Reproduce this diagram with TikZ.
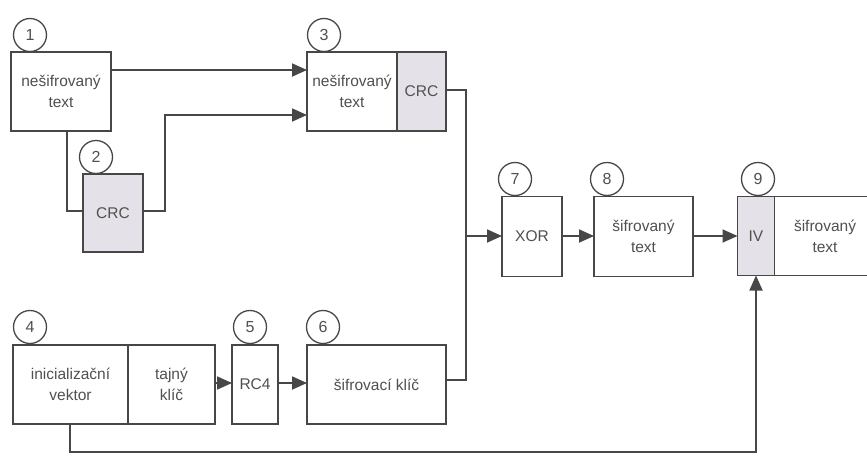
\documentclass[tikz,border=0pt]{standalone}
\usepackage{fontspec}
\setmainfont{Liberation Sans}
\usetikzlibrary{arrows.meta}
\definecolor{linec}{HTML}{474747}
\definecolor{txtc}{HTML}{505050}
\definecolor{grayfill}{HTML}{E4E2E8}
\begin{document}
\begin{tikzpicture}[x=1pt,y=-1pt,
  box/.style={draw=linec,line width=1.3pt,fill=white,text=txtc,inner sep=0pt,outer sep=0pt,
    align=center,font=\fontsize{15.5}{21}\selectfont},
  gbox/.style={box,fill=grayfill},
  num/.style={circle,draw=linec,line width=1.3pt,fill=white,minimum size=33pt,inner sep=0pt,
    text=txtc,font=\fontsize{16}{16}\selectfont},
  conn/.style={draw=linec,line width=1.8pt},
  arr/.style={conn,-{Triangle[length=15pt,width=13pt]}}]
\useasboundingbox (0,0) rectangle (867,455);
\clip (0,0) rectangle (867,455);
\fill[white] (0,0) rectangle (867,455);

% box 1
\node[box,minimum width=100pt,minimum height=79pt] (b1) at (61,91.5) {nešifrovaný\\text};
\node[num] (n1) at (30,35) {1};
% box 2
\node[gbox,minimum width=60pt,minimum height=78pt] (b2) at (113,213) {CRC};
\node[num] (n2) at (96,157) {2};
% box 3
\node[box,minimum width=90pt,minimum height=79pt] (b3) at (352,91.5) {nešifrovaný\\text};
\node[gbox,minimum width=49pt,minimum height=79pt,anchor=west] (b3c) at (b3.east) {CRC};
\node[num] (n3) at (324,35) {3};
% box 4
\node[box,minimum width=115pt,minimum height=79pt] (b4a) at (70.5,384.5) {inicializační\\vektor};
\node[box,minimum width=87pt,minimum height=79pt,anchor=west] (b4b) at (b4a.east) {tajný\\klíč};
\node[num] (n4) at (30,327) {4};
% box 5
\node[box,minimum width=46pt,minimum height=79pt] (b5) at (255,384.5) {RC4};
\node[num] (n5) at (250,327) {5};
% box 6
\node[box,minimum width=139pt,minimum height=79pt] (b6) at (376.5,384.5) {šifrovací klíč};
\node[num] (n6) at (323,327) {6};
% box 7
\node[box,minimum width=60pt,minimum height=80pt] (b7) at (532,236.5) {XOR};
\node[num] (n7) at (515,179) {7};
% box 8
\node[box,minimum width=99pt,minimum height=80pt] (b8) at (643.5,236.5) {šifrovaný\\text};
\node[num] (n8) at (607,179) {8};
% box 9
\node[gbox,minimum width=37pt,minimum height=79pt] (b9a) at (756,236) {IV};
\node[box,minimum width=100pt,minimum height=79pt,anchor=west] (b9b) at (b9a.east) {};
\node[text=txtc,align=center,font=\fontsize{15.5}{21}\selectfont] (t9) at (825,236) {šifrovaný\\text};
\node[num] (n9) at (758,179) {9};

% junction coordinates
\coordinate (j1) at (67,211);
\coordinate (j2a) at (165,211);
\coordinate (j2b) at (165,115);
\coordinate (j3) at (466,90);
\coordinate (j6) at (466,380);
\coordinate (jx) at (466,236);
\coordinate (j4) at (70,452);
\coordinate (j9) at (756,452);

% connectors
\draw[arr] (b1.east |- 0,70) -- (b3.west |- 0,70);
\draw[conn] (b1.south -| j1) -- (j1) -- (b2.west |- j1);
\draw[arr] (b2.east |- j2a) -- (j2a) -- (j2b) -- (b3.west |- j2b);
\draw[conn] (b3c.east |- j3) -- (j3) -- (j6) -- (b6.east |- j6);
\draw[arr] (jx) -- (b7.west |- jx);
\draw[arr] (b7.east |- jx) -- (b8.west |- jx);
\draw[arr] (b8.east |- jx) -- (b9a.west |- jx);
\draw[arr] (b4b.east |- 0,383) -- (b5.west |- 0,383);
\draw[arr] (b5.east |- 0,383) -- (b6.west |- 0,383);
\draw[arr] (b4a.south -| j4) -- (j4) -- (j9) -- (b9a.south -| j9);
\end{tikzpicture}
\end{document}
